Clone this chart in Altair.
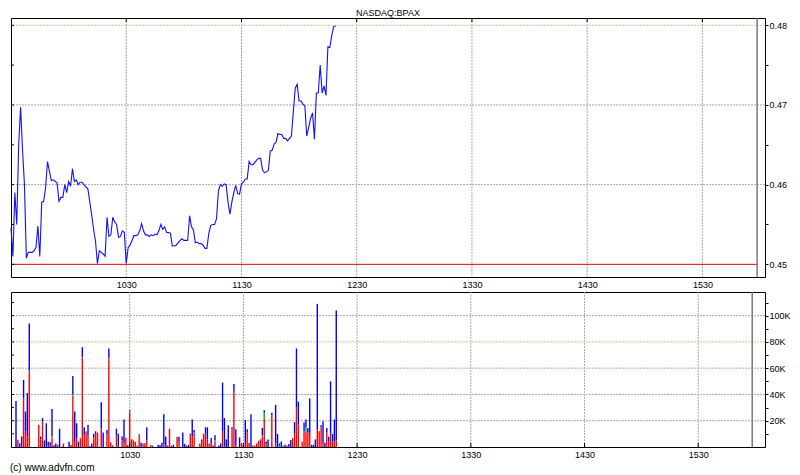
import altair as alt
import pandas as pd

# ---------------- data ----------------
chart_title = "NASDAQ:BPAX"
copyright_text = "(c) www.advfn.com"

# minutes after 09:30
hour_minute = [60, 120, 180, 240, 300, 360]
hour_label = ["1030", "1130", "1230", "1330", "1430", "1530"]

price_minute = list(range(0, 170))
price_value = [
    0.4546, 0.4510, 0.4590, 0.4550, 0.4650, 0.4697, 0.4644, 0.4600, 0.4508, 0.4515,
    0.4515, 0.4515, 0.4517, 0.4521, 0.4548, 0.4510, 0.4578, 0.4579, 0.4596, 0.4629,
    0.4617, 0.4605, 0.4606, 0.4604, 0.4602, 0.4579, 0.4584, 0.4584, 0.4600, 0.4590,
    0.4604, 0.4598, 0.4620, 0.4604, 0.4606, 0.4600, 0.4603, 0.4603, 0.4600, 0.4597,
    0.4595, 0.4579, 0.4562, 0.4544, 0.4529, 0.4501, 0.4517, 0.4515, 0.4513, 0.4510,
    0.4559, 0.4535, 0.4537, 0.4559, 0.4553, 0.4550, 0.4534, 0.4535, 0.4542, 0.4540,
    0.4501, 0.4521, 0.4524, 0.4530, 0.4536, 0.4536, 0.4537, 0.4542, 0.4551, 0.4542,
    0.4537, 0.4537, 0.4535, 0.4537, 0.4536, 0.4538, 0.4537, 0.4542, 0.4550, 0.4544,
    0.4547, 0.4540, 0.4540, 0.4539, 0.4523, 0.4523, 0.4524, 0.4527, 0.4530, 0.4532,
    0.4530, 0.4530, 0.4530, 0.4561, 0.4547, 0.4543, 0.4527, 0.4528, 0.4526, 0.4526,
    0.4524, 0.4520, 0.4520, 0.4539, 0.4549, 0.4550, 0.4550, 0.4557, 0.4592, 0.4600,
    0.4598, 0.4601, 0.4600, 0.4578, 0.4563, 0.4578, 0.4590, 0.4599, 0.4589, 0.4588,
    0.4601, 0.4603, 0.4607, 0.4607, 0.4629, 0.4625, 0.4625, 0.4628, 0.4631, 0.4633,
    0.4633, 0.4618, 0.4615, 0.4616, 0.4618, 0.4642, 0.4643, 0.4651, 0.4653, 0.4664,
    0.4663, 0.4663, 0.4658, 0.4658, 0.4655, 0.4658, 0.4661, 0.4691, 0.4721, 0.4726,
    0.4705, 0.4705, 0.4701, 0.4699, 0.4661, 0.4672, 0.4683, 0.4690, 0.4657, 0.4715,
    0.4715, 0.4750, 0.4715, 0.4724, 0.4712, 0.4773, 0.4772, 0.4787, 0.4798, 0.4799,
]

vol_minute = (
    [0, 1, 2, 3, 4, 5, 6, 7]
    + [12, 13, 14, 15, 16, 17, 18, 19, 20, 21, 22, 23]
    + [25]
    + [28, 29, 30, 31, 32, 33, 34, 35, 36, 37, 38, 39, 40, 41, 42, 43]
    + [45, 46]
    + [48, 49, 50, 51]
    + [53, 54]
    + [56, 57, 58, 59, 60, 61, 62, 63, 64, 65, 66, 67, 68, 69]
    + [71, 72]
    + [75, 76, 77, 78, 79, 80, 81, 82, 83]
    + [85, 86]
    + [88, 89, 90, 91, 92, 93, 94]
    + [97, 98, 99, 100, 101, 102, 103, 104, 105]
    + [107, 108, 109, 110, 111, 112]
    + [114, 115, 116]
    + [118, 119, 120, 121, 122, 123, 124, 125, 126, 127, 128, 129, 130, 131, 132, 133]
    + [135]
    + [137, 138, 139, 140, 141, 142, 143, 144, 145, 146, 147, 148, 149]
    + [151, 152, 153, 154, 155, 156, 157, 158, 159, 160, 161, 162, 163, 164, 165, 166, 167, 168, 169]
)
# volume in thousands of shares
vol_total_k = (
    [35, 5.6, 2.6, 8, 51, 27, 41, 94]
    + [17, 8, 22, 5, 18, 4, 3.6, 29, 1.3, 2.6, 1.8, 14]
    + [2.6]
    + [4, 1.8, 54, 27, 18, 4, 7, 76, 15, 12, 17, 0.5, 2.6, 10, 12, 11]
    + [34, 11]
    + [13, 75, 3.6, 1.3]
    + [14, 10]
    + [8, 21, 7, 1.3, 28, 6, 5, 4, 1, 10, 3.3, 2.6, 2.8, 15]
    + [1.5, 1]
    + [1.8, 1.3, 3.3, 25, 8, 1, 14, 1, 1.8]
    + [7.7, 7.8]
    + [11, 2.4, 1.2, 1.7, 10, 21, 13]
    + [2.7, 5.8, 10, 15, 15, 2.7, 6.8, 1.2, 9]
    + [1.2, 2.7, 49, 22, 5.8, 16.5]
    + [15, 48, 13.5]
    + [7.3, 3, 1.2, 20.6, 13.5, 3, 25, 1.2, 1.2, 2.7, 4.7, 5.8, 14.5, 28, 4.2, 5.8]
    + [26]
    + [32, 10, 2.7, 4.2, 1.2, 1.7, 1.2, 2.2, 5.3, 6.8, 19, 75, 34.5]
    + [4.2, 18.6, 21, 14.5, 37, 1.7, 1.7, 5.8, 109, 12, 16.5, 19.6, 3.2, 14.5, 7.8, 50, 10, 21, 104]
)
vol_red_k = (
    [0, 5.6, 0, 1, 37, 12, 8, 57]
    + [17, 6, 19.5, 0, 0, 1, 0, 7, 0, 0, 1.8, 0]
    + [2.6]
    + [0, 1.8, 39, 3.6, 6.6, 0, 6, 68, 9, 12, 9, 0, 0, 6, 10, 11]
    + [14, 0]
    + [9, 67, 3.6, 1.3]
    + [9, 0]
    + [5, 3, 7, 0, 26, 6, 5, 4, 1, 9, 0, 2.2, 2.8, 5]
    + [1.5, 0]
    + [0, 0, 0, 2, 0, 0, 14, 1, 0]
    + [7.7, 4]
    + [0, 0, 1.2, 0, 9, 8, 11]
    + [2.7, 4, 10, 10, 6, 2.7, 2.5, 0, 4]
    + [0, 0, 12, 0.5, 0, 0]
    + [13.5, 42, 1]
    + [0, 3, 1.2, 3, 11, 3, 0, 1.2, 1.2, 2.7, 4.7, 4.7, 8, 20.6, 2, 0]
    + [24]
    + [3, 0, 0, 0, 0, 0, 1.2, 0, 0, 6.8, 10, 30, 17]
    + [4.2, 12, 12, 11, 10, 0, 0, 0, 13.5, 12, 15, 3, 0, 11, 4, 10, 4, 4, 5]
)
vol_green_k = (
    [0, 0, 0, 0, 0, 0, 0, 1]
    + [0, 0, 0, 0, 0, 0, 0, 1, 0, 0, 0, 0]
    + [0]
    + [0, 0, 1, 0, 0, 0, 1, 0.5, 0, 0, 0, 0, 0, 1, 0, 0]
    + [0, 0]
    + [0, 0.5, 0, 0]
    + [0, 0]
    + [0, 0, 0, 0, 1, 0, 0, 0, 0, 1, 0, 0, 0, 0]
    + [0, 0]
    + [0, 0, 0, 0, 0, 0, 0, 0, 0]
    + [0, 0]
    + [0, 0, 0, 0, 0, 0, 0]
    + [0, 0, 0, 0, 0, 0, 0, 0, 1]
    + [0, 0, 0, 0, 0, 0]
    + [0, 0, 0]
    + [0, 0, 0, 0, 0, 0, 0, 0, 0, 0, 0, 0, 1, 5.6, 0, 0]
    + [0]
    + [0, 0, 1, 0, 1.2, 0, 0, 0, 0, 0, 0, 0, 0]
    + [0, 0, 3, 0, 0, 0, 0, 0, 0, 0, 0, 0, 0, 0, 0, 0, 0, 0, 0]
)

price_tick_values = [0.45, 0.455, 0.46, 0.465, 0.47, 0.475, 0.48]
price_label_values = [0.45, 0.46, 0.47, 0.48]
price_label_text = ["0.45", "0.46", "0.47", "0.48"]
price_grey_grid = [0.46, 0.47]
price_yellow_grid = [0.48]
prev_close = 0.45

vol_tick_values = [10000, 20000, 30000, 40000, 50000, 60000, 70000, 80000, 90000, 100000, 110000]
vol_label_values = [20000, 40000, 60000, 80000, 100000]
vol_label_text = ["20K", "40K", "60K", "80K", "100K"]
vol_grey_grid = [20000, 40000, 60000, 100000]
vol_yellow_grid = [80000]

session_end_minute = 388.5

# ---------------- layout / style ----------------
W = 754
H1 = 259
H2 = 155
X_DOMAIN = [0, 392.6]
FONT = "Liberation Sans"
GRID = "#a8a8a8"
YGRID = "#c8c896"

assert len(price_minute) == len(price_value)
assert len(vol_minute) == len(vol_total_k) == len(vol_red_k) == len(vol_green_k)


def ternary(values, texts, tol):
    expr = "''"
    for v, t in reversed(list(zip(values, texts))):
        expr = f"abs(datum.value - {v}) < {tol} ? '{t}' : ({expr})"
    return expr


price_df = pd.DataFrame({"m": price_minute, "p": price_value})

rows = []
for m, t, r, g in zip(vol_minute, vol_total_k, vol_red_k, vol_green_k):
    b = max(t - r - g, 0)
    rows.append({"m": m, "v": r * 1000, "seg": "red", "ord": 0})
    rows.append({"m": m, "v": g * 1000, "seg": "green", "ord": 1})
    rows.append({"m": m, "v": b * 1000, "seg": "blue", "ord": 2})
vol_df = pd.DataFrame(rows)

hour_df = pd.DataFrame({"m": hour_minute, "lab": hour_label})

x_axis = alt.Axis(
    values=hour_minute,
    labelExpr=ternary(hour_minute, hour_label, 0.01),
    ticks=False, domain=False, grid=False, labelPadding=3,
    labelFont=FONT, labelFontSize=9, labelColor="black", title=None,
)
X = alt.X("m:Q", scale=alt.Scale(domain=X_DOMAIN, nice=False, zero=False), axis=x_axis)

p_axis = alt.Axis(
    orient="right", values=price_tick_values,
    labelExpr=ternary(price_label_values, price_label_text, 1e-6),
    tickSize=3, tickColor="black", domain=False, grid=False, labelPadding=1,
    labelFont=FONT, labelFontSize=9, labelColor="black", title=None,
)
Y = alt.Y("p:Q", scale=alt.Scale(domain=[0.44841, 0.48091], nice=False, zero=False), axis=p_axis)

v_axis = alt.Axis(
    orient="right", values=vol_tick_values,
    labelExpr=ternary(vol_label_values, vol_label_text, 1),
    tickSize=3, tickColor="black", domain=False, grid=False, labelPadding=1,
    labelFont=FONT, labelFontSize=9, labelColor="black", title=None,
)
v_scale = alt.Scale(domain=[0, 118000], nice=False, zero=True)
VY = alt.Y("v:Q", scale=v_scale, axis=v_axis)

# ---------------- top panel ----------------
grid_v = alt.Chart(hour_df).mark_rule(color=GRID, strokeDash=[2, 1], strokeWidth=1).encode(x=X)
grid_h = alt.Chart(pd.DataFrame({"p": price_grey_grid})).mark_rule(
    color=GRID, strokeDash=[2, 1], strokeWidth=1).encode(y=Y)
grid_h_y = alt.Chart(pd.DataFrame({"p": price_yellow_grid})).mark_rule(
    color=YGRID, strokeDash=[2, 1], strokeWidth=1).encode(y=Y)
prev_line = alt.Chart(pd.DataFrame({"m": [0], "m2": [session_end_minute], "p": [prev_close]})).mark_rule(
    color="#e00000", strokeWidth=1).encode(x=X, x2="m2:Q", y=Y)
session_top = alt.Chart(pd.DataFrame({"m": [session_end_minute]})).mark_rule(
    color="#7a7a7a", strokeWidth=1.5).encode(x=X)
price_line = alt.Chart(price_df).mark_line(color="#1010ff", strokeWidth=1.1).encode(x=X, y=Y)
left_ticks_top = alt.Chart(pd.DataFrame({"p": price_tick_values})).mark_rule(color="black").encode(
    x=alt.value(0), x2=alt.value(3), y=Y)
hour_ticks_top = alt.Chart(hour_df).mark_rule(color="black").encode(x=X, y=alt.value(0), y2=alt.value(4))
title_mark = alt.Chart(pd.DataFrame({"t": [chart_title]})).mark_text(
    font=FONT, fontSize=9, color="black", baseline="middle", align="center").encode(
    x=alt.value(W / 2), y=alt.value(-5), text="t:N")

top = alt.layer(
    grid_v, grid_h, grid_h_y, prev_line, session_top, price_line,
    left_ticks_top, hour_ticks_top, title_mark,
).properties(width=W, height=H1)

# ---------------- volume panel ----------------
vgrid_v = alt.Chart(hour_df).mark_rule(color=GRID, strokeDash=[2, 1], strokeWidth=1).encode(x=X)
vgrid_h = alt.Chart(pd.DataFrame({"v": vol_grey_grid})).mark_rule(
    color=GRID, strokeDash=[2, 1], strokeWidth=1).encode(y=VY)
vgrid_h_y = alt.Chart(pd.DataFrame({"v": vol_yellow_grid})).mark_rule(
    color=YGRID, strokeDash=[2, 1], strokeWidth=1).encode(y=VY)
session_bot = alt.Chart(pd.DataFrame({"m": [session_end_minute]})).mark_rule(
    color="#7a7a7a", strokeWidth=1.5).encode(x=X)
bars = alt.Chart(vol_df).mark_bar(size=1.4).encode(
    x=X,
    y=alt.Y("v:Q", stack="zero", scale=v_scale, axis=v_axis),
    color=alt.Color("seg:N", scale=alt.Scale(domain=["red", "green", "blue"],
                                             range=["#ff0000", "#00b000", "#0000ff"]), legend=None),
    order=alt.Order("ord:Q"),
)
left_ticks_bot = alt.Chart(pd.DataFrame({"v": vol_tick_values})).mark_rule(color="black").encode(
    x=alt.value(0), x2=alt.value(3), y=VY)
hour_ticks_bot = alt.Chart(hour_df).mark_rule(color="black").encode(x=X, y=alt.value(H2 - 4), y2=alt.value(H2))
copy_mark = alt.Chart(pd.DataFrame({"t": [copyright_text]})).mark_text(
    font=FONT, fontSize=10, color="black", baseline="middle", align="left").encode(
    x=alt.value(-1), y=alt.value(H2 + 21), text="t:N")

bottom = alt.layer(
    vgrid_v, vgrid_h, vgrid_h_y, session_bot, bars, left_ticks_bot, hour_ticks_bot, copy_mark,
).properties(width=W, height=H2)

chart = alt.vconcat(top, bottom, spacing=15, bounds="flush").properties(
    padding={"left": 0, "top": 0, "right": 0, "bottom": 0},
    background="white",
).configure_view(stroke="black", strokeWidth=1)

chart.save("out.html", embed_options={"renderer": "svg", "actions": False})
